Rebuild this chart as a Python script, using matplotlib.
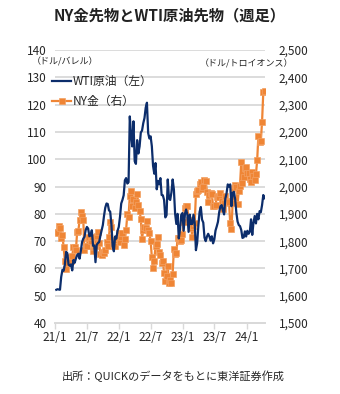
import matplotlib
matplotlib.use("Agg")
import matplotlib.pyplot as plt
import matplotlib.ticker as mticker
import pandas as pd

plt.rcParams['font.family'] = ['Noto Sans CJK JP', 'DejaVu Sans']

# 週足（金曜終値）2021/1/8〜2024/4/12
wti = [
    # 2021
    52.2, 52.4, 52.3, 52.2, 56.9, 59.5, 59.2, 61.5, 66.1, 65.6, 61.4, 61.0,
    61.5, 59.3, 63.1, 62.1, 63.6, 64.9, 65.4, 63.6, 66.3, 69.6, 70.9, 71.6,
    74.1, 75.2, 74.6, 71.8, 72.1, 74.0, 68.3, 68.4, 62.3, 68.7, 69.3, 69.7,
    72.0, 74.0, 75.9, 79.4, 82.3, 83.8, 83.6, 81.3, 80.8, 76.1, 68.2, 66.3,
    71.7, 70.9, 73.8, 75.2,
    # 2022
    78.9, 83.8, 85.1, 86.8, 92.3, 93.1, 91.1, 91.6, 115.7, 109.3, 104.7, 113.9,
    99.3, 98.3, 107.0, 102.1, 104.7, 109.8, 110.5, 113.2, 115.1, 118.9, 120.7, 109.6,
    107.6, 108.4, 104.8, 97.6, 94.7, 98.6, 89.0, 92.1, 90.8, 93.1, 86.9, 86.8,
    85.1, 78.7, 79.5, 92.6, 85.6, 85.1, 87.9, 92.6, 89.0, 80.1, 76.3, 80.0,
    71.0, 74.3, 79.6, 80.3,
    # 2023
    73.8, 79.9, 81.6, 79.7, 73.4, 79.7, 76.3, 76.3, 79.7, 76.7, 66.7, 69.3,
    75.7, 80.7, 82.5, 77.9, 76.8, 71.3, 70.0, 71.7, 72.7, 71.7, 70.2, 71.8,
    69.2, 70.6, 73.9, 75.4, 77.1, 80.6, 82.8, 83.2, 81.3, 79.8, 85.6, 87.5,
    90.8, 90.0, 90.8, 82.8, 87.7, 88.1, 85.5, 80.5, 77.2, 75.9, 75.5, 74.1,
    71.2, 71.4, 73.6, 71.7,
    # 2024
    73.8, 72.7, 73.4, 78.0, 72.3, 76.8, 79.2, 76.5, 80.0, 78.0, 81.0, 80.6,
    83.2, 86.9, 85.7,
]

gold = [
    # 2021
    1835, 1829, 1856, 1850, 1813, 1823, 1777, 1729, 1699, 1719, 1742, 1733,
    1729, 1744, 1780, 1777, 1768, 1832, 1838, 1876, 1905, 1892, 1878, 1769,
    1781, 1784, 1811, 1815, 1802, 1817, 1763, 1780, 1784, 1819, 1833, 1792,
    1754, 1751, 1760, 1757, 1768, 1796, 1784, 1816, 1869, 1852, 1788, 1784,
    1784, 1805, 1812, 1829,
    # 2022
    1797, 1817, 1831, 1785, 1807, 1842, 1899, 1889, 1966, 1985, 1929, 1954,
    1923, 1945, 1974, 1934, 1911, 1882, 1808, 1842, 1851, 1850, 1875, 1840,
    1830, 1801, 1742, 1703, 1727, 1782, 1791, 1816, 1762, 1749, 1721, 1728,
    1683, 1655, 1672, 1709, 1648, 1657, 1645, 1681, 1771, 1754, 1755, 1810,
    1810, 1800, 1804, 1826,
    # 2023
    1870, 1921, 1928, 1929, 1877, 1874, 1850, 1817, 1856, 1867, 1973, 1983,
    1986, 2011, 2015, 1990, 1999, 2025, 2019, 1981, 1944, 1969, 1977, 1971,
    1929, 1929, 1933, 1960, 1964, 1960, 1976, 1946, 1918, 1940, 1966, 1942,
    1946, 1945, 1866, 1845, 1941, 1994, 2006, 1999, 1937, 1984, 2003, 2089,
    2014, 2036, 2069, 2071,
    # 2024
    2050, 2051, 2029, 2018, 2054, 2038, 2024, 2045, 2096, 2186, 2162, 2166,
    2238, 2345, 2350,
]

tick_dates = ['2021-01-01', '2021-07-01', '2022-01-01', '2022-07-01',
              '2023-01-01', '2023-07-01', '2024-01-01']
tick_labels = ['21/1', '21/7', '22/1', '22/7', '23/1', '23/7', '24/1']

dates = pd.date_range('2021-01-08', periods=len(wti), freq='W-FRI')

navy = '#0c2d6b'
orange = '#ef8535'
grid_c = '#d9d9d9'
txt_c = '#262626'

fig = plt.figure(figsize=(3.4, 3.94), dpi=100)
ax1 = fig.add_axes([0.162, 0.180, 0.617, 0.693])
ax2 = ax1.twinx()

# 金（右軸）は下に、原油（左軸）を上に重ねる
ax1.set_zorder(ax2.get_zorder() + 1)
ax1.patch.set_visible(False)

ax2.plot(dates, gold, color=orange, lw=1.6, marker='s', ms=4.2,
         mfc=orange, mec='#f3a062', mew=0.5, label='NY金（右）')
ax1.plot(dates, wti, color=navy, lw=1.6, label='WTI原油（左）')

ax1.set_ylim(40, 140)
ax2.set_ylim(1500, 2500)
ax1.set_yticks(range(40, 141, 10))
ax2.set_yticks(range(1500, 2501, 100))
ax2.yaxis.set_major_formatter(mticker.StrMethodFormatter('{x:,.0f}'))

# 目盛線は右軸側に描く（左右の目盛りが一致）
ax2.grid(axis='y', color=grid_c, lw=1.3)
ax2.set_axisbelow(True)

ax1.set_xlim(pd.Timestamp('2021-01-01'), pd.Timestamp('2024-04-14'))
ax1.set_xticks(pd.to_datetime(tick_dates))
ax1.set_xticklabels(tick_labels)

for ax in (ax1, ax2):
    for s in ('top', 'left', 'right'):
        ax.spines[s].set_visible(False)
    ax.spines['bottom'].set_color(grid_c)
    ax.spines['bottom'].set_linewidth(1.3)
    ax.tick_params(axis='y', length=0, labelsize=8.5, labelcolor=txt_c)
ax1.tick_params(axis='y', pad=6)
ax2.tick_params(axis='y', pad=10)
ax1.tick_params(axis='x', length=4, width=1, color=grid_c, labelsize=8.5,
                labelcolor=txt_c, pad=2)

fig.text(0.5, 0.962, 'NY金先物とWTI原油先物（週足）', ha='center', va='center',
         fontsize=11, fontweight='bold', color='#222222')
fig.text(0.191, 0.843, '（ドル/バレル）', ha='center', va='center',
         fontsize=6.5, color=txt_c)
fig.text(0.726, 0.838, '（ドル/トロイオンス）', ha='center', va='center',
         fontsize=6.5, color=txt_c)
fig.text(0.51, 0.046, '出所：QUICKのデータをもとに東洋証券作成', ha='center',
         va='center', fontsize=8, color=txt_c)

h1, l1 = ax1.get_legend_handles_labels()
h2, l2 = ax2.get_legend_handles_labels()
fig.legend(h1 + h2, l1 + l2, loc='upper left', bbox_to_anchor=(0.14, 0.822),
           frameon=False, fontsize=8.5, handlelength=1.6, handletextpad=0.1,
           labelspacing=0.6, borderaxespad=0, labelcolor=txt_c)

fig.savefig('out.png', dpi=100, facecolor='white')
